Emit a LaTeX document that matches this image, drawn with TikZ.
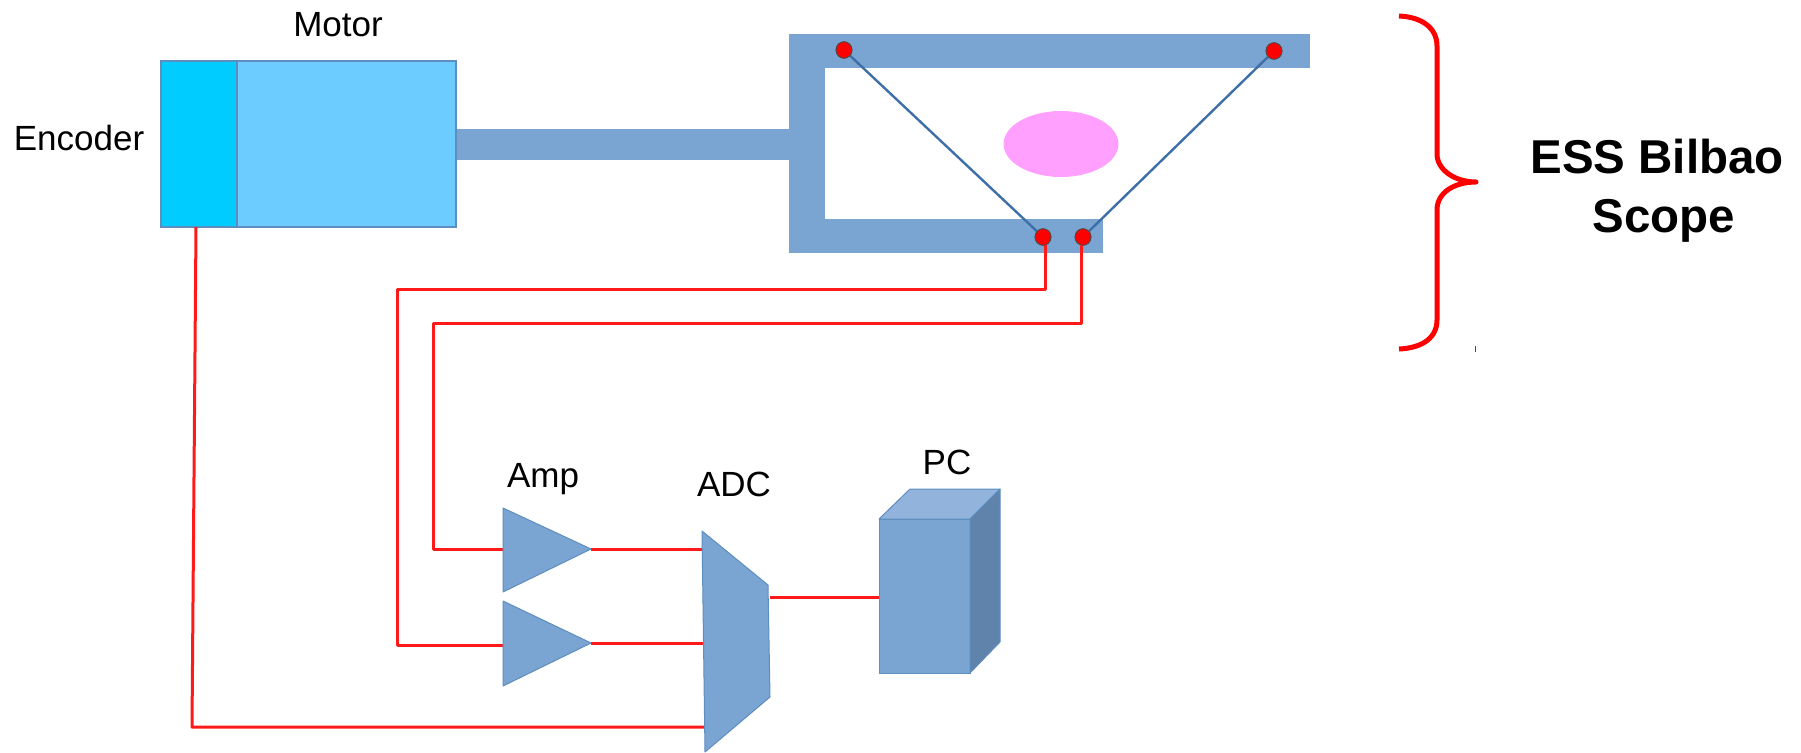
\documentclass[tikz,border=0pt]{standalone}
\usepackage{fontspec}
\setmainfont{Liberation Sans}
\usetikzlibrary{shapes.geometric}
\definecolor{barblue}{HTML}{7AA5D2}
\definecolor{edgeblue}{HTML}{5E8DBF}
\definecolor{pctop}{HTML}{92B3DB}
\definecolor{pcside}{HTML}{5F83AB}
\definecolor{linkblue}{HTML}{3F6FA8}
\definecolor{encblue}{HTML}{00CCFF}
\definecolor{motblue}{HTML}{6DCCFF}
\definecolor{sample}{HTML}{FFA0FF}
\definecolor{wirered}{HTML}{FF1A1A}
\tikzset{
  bar/.style={fill=barblue,draw=none},
  solid3d/.style={fill=barblue,draw=edgeblue,line width=1pt,line join=round},
  wire/.style={draw=wirered,line width=3pt,line join=round},
  link/.style={draw=linkblue,line width=2.4pt},
  pivot/.style={ellipse,fill=red,draw=black!70,line width=.8pt,minimum width=16pt,minimum height=16.5pt,inner sep=0pt},
  housing/.style={rectangle,draw=edgeblue,line width=1.2pt,inner sep=0pt,minimum height=166pt},
  lab/.style={anchor=base,font=\fontsize{35pt}{35pt}\selectfont,inner sep=0pt},
  scopelab/.style={anchor=base,font=\fontsize{47.5pt}{47.5pt}\selectfont\bfseries,inner sep=0pt}
}
\begin{document}
\begin{tikzpicture}[x=1pt,y=-1pt]
\useasboundingbox (0,0) rectangle (1801,752);
% coordinates
\coordinate (w1a) at (397,289);
\coordinate (w1b) at (397,645);
\coordinate (w2a) at (433,323);
\coordinate (w2b) at (433,549);
\coordinate (a1in) at (503,549);
\coordinate (a2in) at (503,645);
\coordinate (a1out) at (591,549);
\coordinate (a2out) at (591,643);
\coordinate (adc1) at (702,549);
\coordinate (adc2) at (703,643);
\coordinate (adc3) at (705,727);
\coordinate (adcout) at (770,597);
\coordinate (pcin) at (879,597);
\coordinate (e1) at (196,227);
\coordinate (e2) at (192,727);
% mechanical frame
\fill[bar] (456,129) rectangle (792,160);
\fill[bar] (789,34) rectangle (1310,68);
\fill[bar] (789,34) rectangle (825,253);
\fill[bar] (789,219) rectangle (1103,253);
% motor
\node[housing,fill=motblue,minimum width=219pt] (motor) at (346.5,144) {};
\node[housing,fill=encblue,minimum width=76pt] (encoder) at (199,144) {};
% sample
\node[ellipse,fill=sample,draw=none,minimum width=115pt,minimum height=66pt,inner sep=0pt] (sample) at (1061,144) {};
% pivots positions
\node[pivot] (p1) at (844,50) {};
\node[pivot] (p2) at (1274,51) {};
\node[pivot] (p3) at (1043,237) {};
\node[pivot] (p4) at (1083,237) {};
% wires
\draw[link] (p1) -- (p3);
\draw[link] (p2) -- (p4);
\draw[wire] (p3.center) ++(2,0) -- (1045,289) -- (w1a) -- (w1b) -- (a2in);
\draw[wire] (p4.center) ++(-2,0) -- (1081,323) -- (w2a) -- (w2b) -- (a1in);
\draw[wire] (a1out) -- (adc1);
\draw[wire] (a2out) -- (adc2);
\draw[wire] (adcout) -- (pcin);
\draw[wire] (e1) -- (e2) -- (adc3);
\node[pivot] at (p1) {};
\node[pivot] at (p2) {};
\node[pivot] at (p3) {};
\node[pivot] at (p4) {};
% amplifiers
\draw[solid3d] (503,508) -- (503,592) -- (a1out) -- cycle;
\draw[solid3d] (503,601) -- (503,686) -- (a2out) -- cycle;
% ADC
\draw[solid3d] (702,531) -- (768,585) -- (770,697) -- (705,752) -- cycle;
% PC
\draw[solid3d] (879,519) rectangle (970,673);
\draw[solid3d,fill=pctop] (879,519) -- (910,489) -- (1000,489) -- (970,519) -- cycle;
\draw[solid3d,fill=pcside] (970,519) -- (1000,489) -- (1000,642) -- (970,673) -- cycle;
% brace
\draw[red,line width=5pt,line cap=butt,line join=round] (1399,16)
  .. controls (1422,17) and (1437,28) .. (1437,46)
  -- (1437,154)
  .. controls (1437,170) and (1455,182) .. (1476,182)
  .. controls (1455,182) and (1437,192) .. (1437,210)
  -- (1437,320)
  .. controls (1437,338) and (1422,348) .. (1399,349);
\draw[red,line width=.8pt] (1475,346) -- (1475,352);
% labels
\node[lab] (tmotor) at (338,37) {Motor};
\node[lab] (tenc) at (79,150) {Encoder};
\node[lab] (tamp) at (543,487) {Amp};
\node[lab] (tadc) at (734,496) {ADC};
\node[lab] (tpc) at (947,474) {PC};
\node[scopelab] (tess) at (1657,173) {ESS Bilbao};
\node[scopelab] (tscope) at (1664,232) {Scope};
\end{tikzpicture}
\end{document}
